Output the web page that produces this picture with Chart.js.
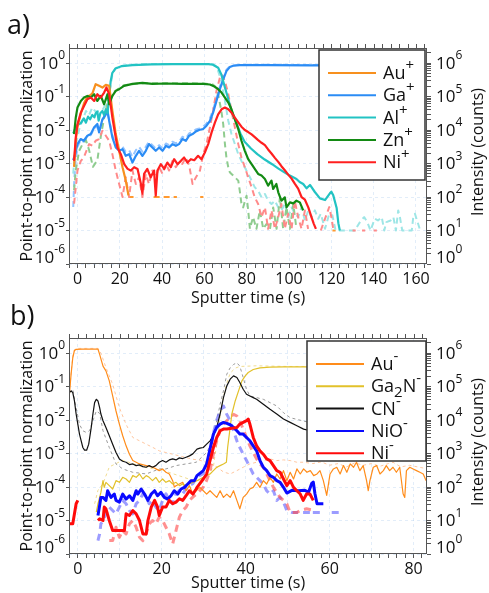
<!DOCTYPE html>
<html lang="en">
<head>
<meta charset="UTF-8">
<title>Depth profiles</title>
<script src="https://cdn.jsdelivr.net/npm/chart.js"></script>
<style>
  body { margin: 0; background: #fff; }
  .wrap { position: relative; width: 489px; height: 593px; overflow: hidden; font-family: "Open Sans", sans-serif; }
  canvas { position: absolute; left: 0; }
  #chartA { top: 0; }
  #chartB { top: 290px; }
  .panel { position: absolute; font-size: 27px; line-height: 32px; color: #111; }
</style>
</head>
<body>
<div class="wrap">
  <canvas id="chartA" width="489" height="310"></canvas>
  <canvas id="chartB" width="489" height="303"></canvas>
  <div class="panel" style="left:7px; top:8px;">a)</div>
  <div class="panel" style="left:10px; top:299px;">b)</div>
</div>
<script>
// [time (s), log10 value]; solid = point-to-point normalization (left axis),
// dashed = log10 of intensity in counts (right axis). null breaks the line.

// ---- panel a: positive ions ----
const auPlus = [[-1.6,-3.1],[-0.8,-2.3],[0,-1.9],[1.6,-1.5],[3.1,-1.2],[4.7,-1.0],[6.3,-0.95],[7.1,-0.9],[8.6,-0.63],[10.2,-0.68],[11.8,-0.73],[13.4,-0.65],[15,-0.68],[16.5,-1.43],[18.1,-2.12],[19.7,-2.62],[21.3,-3.11],[22.8,-3.5],[24.1,-3.95]];
const auPlusCounts = [[24.3,2],[26.5,2],[27,null],[36,2],[47,2],[47.5,null],[58,2],[59.5,2],[60,null],[120.5,1],[122,1]];

const gaPlus = [[-2,-2.9],[-1,-2.7],[0,-2.42],[1.5,-2.27],[3,-2.32],[4.7,-2.17],[6.3,-2.12],[7.9,-1.92],[9.4,-1.82],[10.2,-2.07],[11.8,-1.68],[13.4,-1.53],[14.2,-1.43],[15,-1.73],[16.5,-2.22],[18.1,-2.52],[19.7,-2.62],[21.3,-2.57],[22.8,-2.77],[24.4,-2.72],[26,-2.97],[27.6,-2.77],[29.1,-2.62],[30.7,-2.77],[32.3,-2.62],[33.8,-2.42],[35.4,-2.52],[37,-2.62],[38.6,-2.52],[40.2,-2.62],[41.8,-2.47],[43.3,-2.52],[44.9,-2.42],[46.5,-2.47],[48,-2.42],[49.6,-2.27],[51.2,-2.32],[52.8,-2.17],[54.4,-2.12],[56,-2.04],[57.5,-2.0],[59.4,-1.97],[61,-1.87],[62.6,-1.73],[64.1,-1.48],[65.7,-1.13],[67.3,-0.78],[68.9,-0.49],[70.4,-0.24],[72,-0.12],[73.6,-0.08],[76.7,-0.06],[90,-0.06],[110,-0.07],[130,-0.07],[150,-0.07],[163,-0.07]];
const gaPlusCounts = [[-2,1.7],[-1.5,2.5],[-1,3.0],[0,3.5],[1.5,3.7],[3,3.65],[4.7,3.8],[6.3,3.85],[7.9,4.05],[9.4,4.1],[10.2,3.95],[11.8,4.3],[13.4,4.45],[14.2,4.5],[15,4.3],[16.5,3.85],[18.1,3.55],[19.7,3.45],[21.3,3.5],[22.8,3.35],[24.4,3.4],[26,3.2],[27.6,3.4],[29.1,3.5],[30.7,3.35],[32.3,3.5],[33.8,3.65],[35.4,3.55],[37,3.45],[38.6,3.55],[40.2,3.45],[41.8,3.6],[43.3,3.55],[44.9,3.65],[46.5,3.6],[48,3.65],[49.6,3.8],[51.2,3.75],[52.8,3.9],[54.4,3.95],[56,4.02],[57.5,4.05],[59.4,4.1],[61,4.2],[62.6,4.35],[64.1,4.6],[65.7,4.95],[67.3,5.3],[68.9,5.6],[70.4,5.8],[72,5.9],[73.6,5.93],[76.7,5.95],[90,5.95],[110,5.94],[130,5.94],[150,5.94],[163,5.94]];

const alPlus = [[-2,-2.1],[-1,-1.95],[0,-1.85],[1.5,-1.8],[3,-1.65],[4,-1.78],[5,-1.6],[6,-1.68],[7,-1.55],[8,-1.62],[8.6,-1.5],[9.4,-1.45],[10,-1.72],[10.8,-1.5],[11.8,-1.43],[12.6,-1.55],[13.4,-1.38],[14.2,-1.5],[15,-0.98],[15.7,-0.54],[16.5,-0.29],[18,-0.16],[21,-0.09],[26,-0.06],[35,-0.04],[45,-0.03],[55,-0.03],[62,-0.03],[64,-0.05],[66.5,-0.14],[68,-0.34],[69.7,-0.73],[71.3,-1.08],[72.8,-1.43],[75.2,-1.8],[77,-2.1],[79,-2.35],[82,-2.55],[85,-2.72],[88.5,-2.88],[92,-3.02],[95,-3.15],[98,-3.27],[100.4,-3.36],[103.5,-3.46],[105,-3.55],[106.7,-3.61],[108.3,-3.74],[109.9,-3.64],[112.2,-3.85],[114.6,-4.04],[117,-4.09],[119.3,-3.89],[120,-3.84],[120.9,-3.95],[122.5,-4.33],[123.3,-4.78],[124,-5.0]];
const alPlusCounts = [[-2,2.7],[-1,3.5],[1,4.07],[2.5,4.3],[4,4.57],[5.5,4.45],[7,4.67],[8.6,4.55],[10.2,4.57],[11.8,4.6],[13.4,4.77],[15,5.07],[16.5,5.65],[18,5.85],[22,5.93],[30,5.97],[60,5.97],[64,5.97],[65.7,5.9],[66.5,5.76],[68,5.46],[69.7,4.87],[71.3,4.27],[72.8,3.88],[74.4,3.58],[76,3.28],[77.5,3.08],[79.1,2.88],[80.7,2.69],[82.3,2.49],[83.8,2.29],[85.4,2.19],[87,1.99],[88.6,2.09],[90.1,1.89],[91.7,1.79],[93.3,1.89],[94.9,1.69],[96.4,1.6],[98,1.79],[99.6,1.4],[101.2,1.69],[102.7,1.5],[104.3,1.4],[105.9,1.69],[107.5,1.3],[109.1,1.6],[110.6,1.4],[112.2,1.6],[113.8,1.35],[115,1.5],[117,1.05],[119,1.5],[120.5,1.45],[122,1.0],[131,1.0],[134,1.3],[135.5,1.4],[137,1.25],[138.5,1.0],[140.5,1.35],[142,1.3],[143.8,1.4],[145,1.0],[146,1.25],[148,1.3],[149.3,1.4],[150.5,1.0],[151.6,1.6],[152.4,1.4],[153.5,1.0],[158,1.0],[158.7,1.4],[159.5,1.5],[161,1.2],[162,1.0]];

const znPlus = [[-1.6,-2.12],[-0.8,-1.63],[0,-1.33],[1.6,-1.13],[3.1,-1.03],[4.7,-0.98],[6.3,-1.03],[7.9,-0.93],[9.4,-1.13],[11,-0.98],[12.6,-1.23],[14.2,-0.93],[15,-1.23],[16.5,-0.98],[18.1,-0.83],[19.7,-0.78],[22,-0.68],[26,-0.62],[30.7,-0.59],[35.4,-0.62],[41.8,-0.61],[49.6,-0.62],[55.9,-0.62],[59.4,-0.62],[62.6,-0.64],[65,-0.71],[66.5,-0.78],[68.1,-0.88],[69.7,-1.03],[71.3,-1.18],[72.8,-1.38],[74.4,-1.68],[76,-1.97],[77.5,-2.32],[79.1,-2.62],[80.7,-2.87],[82.3,-3.02],[83.8,-3.16],[85.4,-3.31],[87,-3.36],[88.6,-3.46],[90.1,-3.66],[91.7,-3.51],[92.5,-3.76],[94,-3.61],[94.9,-3.86],[96.4,-4.11],[98,-4.01],[98.8,-4.31],[100.4,-4.16],[102,-4.19],[103.5,-4.11],[105.1,-4.16],[106.7,-4.4]];
const znPlusCounts = [[-1.6,2.2],[-0.8,2.8],[0.8,3.38],[2.4,3.58],[4,3.7],[5.5,3.4],[7.3,2.9],[9.4,3.1],[11,3.8],[13,4.5],[15,5.0],[16.5,5.1],[19,5.22],[22,5.34],[30,5.4],[45,5.4],[60,5.39],[64,5.36],[65,5.3],[66.5,5.07],[68,4.57],[68.9,4.17],[69.7,3.58],[70.4,3.18],[71.3,2.88],[72,2.74],[72.8,2.69],[74.4,2.59],[76,2.49],[76.7,2.19],[77.5,1.8],[78.3,1.69],[79.9,2.04],[80.7,1.6],[81.5,1.05],[83,1.4],[84.6,1.05],[86.2,1.6],[87.8,1.05],[89.4,1.2],[91,1.05],[92.5,1.69],[94.1,1.05],[95.7,1.99],[97.2,1.05],[98.8,1.69],[100.4,1.05],[102,1.79],[103.5,1.05]];

const niPlus = [[-1.6,-2.92],[-0.8,-2.22],[0,-1.83],[1.6,-1.48],[3.1,-1.28],[4.7,-1.08],[6.3,-1.03],[7.9,-1.13],[9.4,-0.93],[11,-1.03],[12.6,-0.88],[13.7,-0.73],[15,-0.93],[16.5,-1.63],[17.8,-2.12],[18.9,-2.52],[20.5,-2.72],[22.1,-3.02],[23.7,-3.16],[25.2,-3.21],[26.8,-3.11],[28.4,-3.16],[30,-3.61],[30.7,-3.9],[31.5,-3.31],[33,-3.16],[34.6,-3.41],[36.2,-3.21],[37,-3.96],[37.8,-3.21],[39.4,-3.02],[41,-3.16],[42.5,-2.97],[44.1,-3.11],[45.7,-2.87],[47.3,-3.02],[48.9,-2.92],[50.4,-2.82],[52,-2.97],[53.6,-2.87],[55.2,-2.9],[57,-2.77],[58.6,-2.87],[60.2,-2.67],[61.8,-2.42],[63.4,-2.07],[65,-1.77],[66.5,-1.53],[68.1,-1.38],[69.7,-1.33],[71.3,-1.38],[72.8,-1.48],[74.4,-1.63],[76,-1.77],[77.5,-1.9],[79.1,-2.0],[80.7,-2.06],[82.3,-2.13],[83.8,-2.21],[85.4,-2.3],[87,-2.38],[88.6,-2.45],[90.1,-2.58],[91.7,-2.7],[93.3,-2.83],[94.9,-2.95],[96.4,-3.08],[98,-3.2],[99.6,-3.33],[101.2,-3.45],[102.7,-3.6],[104.3,-3.75],[105.9,-4.0],[107.5,-4.08],[109.1,-4.31],[110.6,-4.6],[111.7,-4.8],[112.7,-4.95]];
const niPlusCounts = [[-1.6,1.8],[0,2.79],[1.6,3.08],[3,3.18],[5.5,3.58],[7.1,3.53],[8.6,3.68],[10.2,3.73],[11.8,3.98],[13.4,3.83],[15,3.68],[16.5,3.28],[18.1,2.79],[19.7,2.39],[21.3,2.0],[22.8,2.59],[24.4,2.0],[26,2.79],[27.6,2.39],[29.1,2.59],[30.7,2.0],[32.3,2.69],[33.8,2.39],[35.4,2.79],[37,2.59],[38.6,2.89],[40.2,2.69],[41.8,2.99],[43.3,2.79],[44.9,3.08],[46.5,2.89],[48,3.03],[49.6,2.99],[51.2,3.18],[52.8,2.94],[54.4,2.39],[56,2.59],[57.9,2.79],[59.4,3.28],[61,3.58],[62.6,4.08],[64.1,4.57],[65.7,5.17],[67.3,5.56],[68.1,5.66],[69.7,5.46],[71.3,5.07],[72.8,4.57],[74.4,4.08],[76,3.58],[77.5,3.18],[79.1,2.89],[80.7,2.59],[82.3,2.29],[83.8,1.99],[85.4,1.79],[87,1.4],[88.6,1.69],[90.1,1.05],[91.7,1.6],[93.3,1.05],[94.9,1.4],[96.4,1.79],[98,1.05],[99.6,1.5],[101.2,1.05],[102.7,1.89],[104.3,1.4],[105.9,1.05],[107.5,1.6],[109,1.05],[110,null],[115,1.0],[119,1.7],[120,1.4],[121,1.0],[122,null],[130,1.0],[131.5,1.0],[132,null],[134.5,1.0],[136,1.0],[137,null],[140,1.0],[141.5,1.0]];

// ---- panel b: negative ions ----
const auMinus = [[-2,-1.23],[-1.6,-0.63],[-1.2,-0.14],[-0.8,0.08],[-0.4,0.11],[1,0.12],[3,0.12],[4.8,0.12],[5.2,-0.04],[6,-0.39],[6.7,-0.53],[7.5,-0.83],[8.3,-1.28],[9.1,-1.73],[9.9,-2.12],[10.7,-2.47],[11.5,-2.77],[12.3,-3.02],[13.1,-3.21],[14.7,-3.31],[16.3,-3.36],[17.9,-3.41],[19.4,-3.51],[20.2,-3.46],[21,-3.56],[21.8,-3.61],[22.6,-3.81],[23,-4.0],[23.4,-3.96],[24.2,-3.91],[25,-3.86],[25.8,-4.11],[26.6,-3.96],[27.4,-4.21],[28.2,-4.11],[29.1,-4.01],[29.9,-4.11],[30.7,-4.21],[31.5,-4.11],[32.3,-4.21],[33.1,-4.31],[33.9,-4.11],[34.7,-4.31],[35.5,-4.21],[36.3,-4.31],[37.1,-4.11],[37.9,-4.4],[38.6,-4.65],[39.4,-4.31],[40.2,-4.21],[41,-4.06],[41.8,-4.01],[42.6,-3.86],[43.4,-4.01],[44.2,-3.81],[45,-3.91],[45.8,-3.71],[46.6,-3.86],[47.4,-3.61],[48.2,-3.76],[49,-3.51],[49.8,-3.81],[50.6,-3.56],[51.4,-3.76],[52.2,-3.46],[53,-3.61],[53.8,-3.46],[54.6,-3.56],[55.4,-3.51],[56.2,-3.66],[57,-3.61],[57.7,-3.51],[58.5,-3.81],[59.3,-4.25],[60.1,-3.61],[60.9,-3.46],[61.7,-3.41],[62.5,-3.61],[63.3,-3.36],[64.1,-3.56],[64.9,-3.31],[65.7,-3.41],[66.4,-3.26],[67.2,-3.51],[68,-3.36],[68.8,-3.81],[69.2,-4.11],[69.6,-3.81],[70.4,-3.41],[71.2,-3.36],[72,-3.61],[72.8,-3.51],[73.5,-3.36],[74.3,-3.51],[75.1,-3.41],[75.9,-3.56],[76.7,-3.41],[77.5,-4.2],[77.9,-4.31],[78.3,-3.51],[79.1,-3.41],[79.9,-3.46],[80.7,-3.51],[81.5,-3.56],[82.3,-3.61],[83,-3.81]];
const auMinusCounts = [[-2,4.8],[-1.6,5.4],[-1.2,5.9],[-0.8,6.1],[0,6.14],[2,6.14],[4.8,6.14],[5.5,6.0],[6.7,5.57],[8.3,5.07],[9.9,4.37],[11.5,3.87],[13.1,3.48],[14.7,3.38],[16.3,3.28],[17.9,3.18],[19.4,3.08],[21,3.03],[22.6,2.98],[24.2,2.93],[25.8,2.88],[27.4,2.83],[29.1,2.8],[31.5,2.7],[33.1,2.6],[34.7,2.45],[36.3,2.39],[37.9,2.49],[39.4,2.59],[41,2.69],[42.6,2.74],[44.2,2.79],[45.8,2.84],[47.4,2.79],[49,2.81],[50.6,2.79],[52.2,2.74],[53.8,2.74],[56,2.7],[58,2.75],[60,2.65],[62,2.7],[64,2.6],[66,2.72],[68,2.65],[70,2.7],[72,2.62],[74,2.7],[75.1,2.74],[77,2.6],[79,2.65],[81,2.6],[83,2.55]];

const ga2nMinus = [[4.4,-4.75],[4.8,-4.5],[5.2,-4.31],[5.5,-4.16],[6,-3.81],[6.3,-4.01],[6.7,-3.86],[7.5,-3.96],[8.3,-4.06],[9.1,-3.81],[9.9,-3.86],[10.7,-3.71],[11.5,-3.76],[12.3,-3.86],[13.1,-3.66],[13.9,-3.71],[14.7,-3.61],[15.5,-3.76],[16.3,-3.66],[17,-3.71],[17.8,-3.81],[18.6,-3.71],[19.4,-3.86],[20.2,-3.76],[21,-3.86],[21.8,-3.81],[22.6,-3.91],[23.4,-3.86],[24.2,-3.96],[25,-3.91],[25.8,-3.96],[26.6,-3.91],[27.4,-3.86],[28.4,-3.81],[29.9,-3.71],[31.5,-3.61],[32.3,-3.51],[33.1,-3.41],[33.9,-3.36],[34.7,-3.31],[35.4,-3.26],[35.7,-2.82],[36.2,-2.32],[36.7,-1.82],[37.5,-1.43],[38.3,-1.13],[39.1,-0.83],[39.9,-0.68],[40.6,-0.58],[41.8,-0.49],[43.4,-0.44],[45.8,-0.42],[49,-0.41],[55,-0.41],[65,-0.41],[75,-0.41],[83,-0.41]];
const ga2nMinusCounts = [[4,1.5],[4.8,1.9],[6,2.1],[7.5,2.6],[9.1,2.7],[10.7,2.8],[13.1,2.7],[15.5,2.6],[17.8,2.55],[20.2,2.5],[22.6,2.4],[25,2.3],[27.4,2.2],[29,2.2],[30.7,2.3],[32.3,2.6],[33.1,3.3],[33.9,4.1],[34.7,4.7],[35.5,5.1],[36.3,5.4],[37.5,5.55],[38.6,5.6],[42.6,5.62],[50,5.6],[60,5.6],[70,5.6],[83,5.6]];

const cnMinus = [[-2,-1.18],[-1.6,-1.13],[-1.2,-1.18],[-0.8,-1.43],[-0.4,-1.82],[0,-2.12],[0.4,-2.42],[0.8,-2.62],[1.2,-2.82],[1.6,-2.9],[2.1,-2.9],[2.6,-2.72],[3.2,-2.22],[3.6,-1.82],[4,-1.48],[4.4,-1.38],[4.8,-1.43],[5.2,-1.63],[5.5,-1.82],[6,-2.02],[6.7,-2.22],[7.5,-2.47],[8.3,-2.72],[9.1,-2.97],[9.9,-3.16],[10.7,-3.23],[11.5,-3.26],[12.3,-3.33],[13.1,-3.31],[13.9,-3.36],[14.7,-3.34],[15.5,-3.39],[16.3,-3.41],[17,-3.36],[17.8,-3.41],[18.6,-3.36],[19.4,-3.26],[20.2,-3.21],[21,-3.26],[21.8,-3.19],[22.6,-3.16],[23.4,-3.19],[24.2,-3.13],[25,-3.15],[25.8,-3.11],[26.6,-3.07],[27.4,-3.01],[28.4,-2.87],[29.1,-2.84],[29.9,-2.82],[30.7,-2.72],[31.5,-2.62],[32.3,-2.47],[33.1,-2.22],[33.9,-1.82],[34.7,-1.33],[35.5,-0.98],[36.3,-0.78],[37.1,-0.68],[37.9,-0.73],[38.6,-0.88],[39.4,-1.08],[40.2,-1.23],[41,-1.28],[41.8,-1.33],[42.6,-1.38],[44.2,-1.53],[45.8,-1.68],[47.4,-1.82],[49,-1.97],[50.6,-2.07],[52.2,-2.17],[53.8,-2.27],[55.4,-2.32],[57,-2.34],[60,-2.4],[70,-2.5],[80,-2.55],[83,-2.6]];
const cnMinusCounts = [[-2,4.82],[-1.2,4.92],[-0.4,4.37],[0.4,3.87],[1.2,3.68],[2,3.63],[2.8,3.68],[3.6,3.98],[4.4,4.27],[5.2,4.2],[6,3.68],[7.5,3.18],[9.1,2.69],[10.7,2.54],[13.1,2.44],[16.3,2.39],[19.4,2.54],[21,2.54],[23.4,2.64],[25.8,2.69],[28.2,2.74],[29.1,2.84],[30.7,3.03],[31.5,3.23],[32.3,3.58],[33.1,3.98],[33.9,4.47],[34.7,4.87],[35.5,5.37],[36.3,5.56],[37.1,5.66],[37.9,5.71],[38.6,5.61],[39.4,5.27],[40.2,4.92],[41,4.72],[42.6,4.67],[44.2,4.62],[45.8,4.52],[47.4,4.42],[49,4.22],[50.6,4.07],[52.2,4.02],[53.8,3.97],[56,3.9],[60,3.8],[70,3.7],[80,3.6],[83,3.55]];

const nioMinus = [[4.8,-4.85],[5.2,-4.55],[5.5,-4.31],[6,-4.31],[6.7,-4.4],[7.1,-4.11],[7.9,-4.31],[8.7,-4.21],[9.1,-4.4],[9.9,-4.45],[10.7,-4.21],[11.5,-4.36],[12.3,-4.26],[13.1,-4.4],[13.9,-4.11],[14.3,-4.21],[15.1,-4.06],[15.9,-4.21],[16.7,-4.4],[17.5,-4.21],[18.3,-4.11],[19,-4.26],[19.8,-4.16],[20.6,-4.31],[21.4,-4.36],[22.2,-4.26],[23,-4.11],[23.8,-4.21],[24.6,-4.06],[25.4,-4.01],[26.2,-3.91],[27,-3.81],[27.8,-3.81],[28.4,-3.66],[29.9,-3.51],[30.7,-3.31],[31.5,-2.87],[32.3,-2.42],[33.1,-2.22],[33.9,-2.12],[34.7,-2.07],[35.5,-2.1],[36.3,-2.14],[37.1,-2.22],[37.9,-2.32],[38.6,-2.42],[39.4,-2.42],[40.2,-2.52],[41,-2.62],[41.8,-2.77],[42.6,-2.92],[43.4,-3.21],[44.2,-3.41],[45,-3.51],[45.8,-3.66],[46.6,-3.71],[47.4,-3.81],[48.2,-3.86],[49,-4.01],[49.8,-4.18],[51,-4.1],[52.5,-4.11],[54.1,-4.1],[55,-4.15],[55.7,-3.9],[56.1,-3.85],[56.5,-4.2],[57,-4.5],[58.5,-4.5]];
const nioMinusCounts = [[4.8,0.4],[5.2,0.6],[5.5,0.9],[6,1.0],[6.7,1.2],[7.5,1.4],[8.3,1.3],[9.1,1.2],[9.9,1.4],[10.7,1.6],[11.5,1.5],[12.3,1.3],[13.1,1.2],[13.9,1.5],[14.7,1.6],[15.5,1.8],[16.3,1.7],[17,1.5],[17.8,1.6],[18.6,1.4],[19.4,1.3],[20.2,1.6],[21,1.8],[21.8,1.6],[22.6,1.5],[23.4,1.8],[24.2,1.9],[25,1.8],[25.8,1.95],[26.6,2.05],[27.4,2.1],[28.4,2.3],[29.9,2.4],[30.7,2.6],[31.5,3.1],[32.3,3.6],[33.1,4.0],[33.9,4.27],[34.7,4.42],[35.5,4.17],[36.3,3.98],[37.1,3.68],[37.9,3.38],[38.6,3.18],[39.4,2.98],[40.2,2.79],[41,2.59],[41.8,2.39],[42.6,2.29],[43.4,2.19],[44.2,2.09],[45,1.89],[45.8,1.79],[46.6,1.89],[47.4,1.6],[48.2,1.69],[49,1.55],[49.8,1.3],[51,1.24],[53,1.24],[55.3,1.24],[55.8,null],[56,1.24],[57.7,1.24],[58,null],[60.5,1.24],[62.5,1.24]];

const niMinus = [[-2,-5.1],[-1.2,-5.1],[-0.8,-4.8],[-0.4,-4.5],[0,-4.4],[0.1,null],[4.8,-5.0],[5.2,-4.95],[6,-5.0],[6.3,-4.6],[6.7,-4.65],[7.5,-5.0],[8.3,-5.3],[9.9,-5.3],[11.1,-5.3],[11.5,-4.8],[12.3,-4.85],[13.1,-4.7],[13.9,-4.8],[14.7,-5.0],[15.5,-5.4],[16.3,-5.4],[16.7,-5.0],[17.5,-4.6],[18.3,-4.4],[19,-4.6],[19.4,-4.85],[20.2,-4.6],[21,-4.6],[21.8,-4.4],[22.6,-4.5],[23.4,-4.45],[24.2,-4.35],[25,-4.4],[25.8,-4.26],[26.6,-4.11],[27.4,-4.21],[28.2,-4.06],[28.4,-4.01],[29.9,-3.76],[30.7,-3.61],[31.5,-3.21],[32.3,-2.82],[33.1,-2.52],[33.9,-2.32],[34.7,-2.27],[35.5,-2.27],[36.3,-2.25],[37.1,-2.24],[37.9,-2.22],[38.6,-2.12],[39.4,-2.07],[40.2,-2.02],[40.6,-1.97],[41,-2.12],[41.8,-2.52],[42.6,-2.77],[43.4,-2.92],[44.2,-3.02],[45,-3.16],[45.8,-3.21],[46.6,-3.36],[47.4,-3.51],[48.2,-3.56],[49,-3.76],[49.8,-3.96],[50.6,-3.81],[51.4,-4.01],[52.2,-4.11],[53,-4.21],[53.7,-4.4],[54.5,-4.21],[55.3,-4.21],[56.1,-4.4]];
const niMinusCounts = [[7.5,0.4],[8.3,0.4],[9.1,0.8],[9.9,0.5],[10.7,0.7],[11.5,0.6],[12.3,0.9],[13.1,1.0],[13.9,0.8],[14.7,0.5],[15.5,0.4],[16.3,0.6],[17,0.9],[17.8,1.0],[18.6,0.9],[19.4,1.1],[20.2,1.0],[21,0.8],[21.8,0.6],[22.6,0.3],[23.4,0.7],[24.2,1.1],[25,1.3],[25.8,1.4],[26.6,1.6],[27.4,1.7],[28.4,1.8],[29.9,2.0],[30.7,2.2],[31.5,2.49],[32.3,2.99],[33.1,3.38],[33.9,3.68],[34.7,3.88],[35.5,3.98],[36.3,4.08],[37.1,4.17],[37.9,4.12],[38.6,3.98],[39.4,3.73],[40.2,3.48],[41,3.23],[41.8,3.03],[42.6,2.84],[43.4,2.69],[44.2,2.59],[45,2.39],[45.8,2.19],[46.6,1.99],[47.4,1.84],[48.2,1.69],[49,1.6],[49.8,1.5],[50.6,1.24],[52.2,1.24],[53,1.3],[54.5,1.35],[56.5,1.3]];

// legend labels: ^x = superscript, _x = subscript
const labelsA = ['Au^+', 'Ga^+', 'Al^+', 'Zn^+', 'Ni^+'];
const labelsB = ['Au^-', 'Ga_2N^-', 'CN^-', 'NiO^-', 'Ni^-'];

const xTitle = 'Sputter time (s)';
const yTitleLeft = 'Point-to-point normalization';
const yTitleRight = 'Intensity (counts)';

const FONT = '"Open Sans", sans-serif';
const gridCol = 'rgba(150, 190, 235, 0.28)';
Chart.defaults.font.family = FONT;
Chart.defaults.color = '#111';

function line(pairs, color, width, dash, axis, order) {
    return {
        data: pairs.map(p => ({ x: p[0], y: p[1] })),
        borderColor: color,
        borderWidth: width,
        borderDash: dash || [],
        borderJoinStyle: 'round',
        yAxisID: axis,
        pointRadius: 0,
        fill: false,
        order: order
    };
}

function drawRich(ctx, text, x, y, size) {
    let i = 0;
    while (i < text.length) {
        let ch = text[i], mode = 0;
        if (ch === '^' || ch === '_') {
            mode = ch === '^' ? 1 : -1;
            i++;
            ch = text[i];
        }
        const fs = mode ? Math.round(size * 0.85) : size;
        ctx.font = fs + 'px ' + FONT;
        const dy = mode === 1 ? -size * 0.45 : (mode === -1 ? size * 0.3 : 0);
        ctx.fillText(ch, x, y + dy);
        x += ctx.measureText(ch).width;
        i++;
    }
}

// plot frame + small tick marks on the top edge
const frame = {
    id: 'frame',
    afterDatasetsDraw(chart) {
        const { ctx, chartArea: ca } = chart;
        const xs = chart.scales.x;
        ctx.save();
        ctx.strokeStyle = '#555';
        ctx.lineWidth = 1;
        ctx.strokeRect(Math.round(ca.left) + 0.5, Math.round(ca.top) + 0.5,
            Math.round(ca.right - ca.left) - 1, Math.round(ca.bottom - ca.top) - 1);
        ctx.beginPath();
        xs.ticks.forEach(t => {
            const px = Math.round(xs.getPixelForValue(t.value)) + 0.5;
            ctx.moveTo(px, ca.top - 4);
            ctx.lineTo(px, ca.top);
        });
        ctx.stroke();
        ctx.restore();
    }
};

// 10^n tick labels on both y axes and the right axis title
const expLabels = {
    id: 'expLabels',
    afterDraw(chart) {
        const { ctx, chartArea: ca } = chart;
        const yl = chart.scales.y, yr = chart.scales.y2;
        ctx.save();
        ctx.fillStyle = '#111';
        ctx.textBaseline = 'middle';
        yl.ticks.forEach(t => {
            const py = Math.min(yl.getPixelForValue(t.value), ca.bottom - 7);
            const e = String(Math.round(t.value));
            ctx.font = '12px ' + FONT;
            const ew = ctx.measureText(e).width;
            ctx.textAlign = 'left';
            ctx.fillText(e, ca.left - 4 - ew, py - 7);
            ctx.font = '17px ' + FONT;
            ctx.textAlign = 'right';
            ctx.fillText('10', ca.left - 4 - ew, py + 1);
        });
        yr.ticks.filter(t => Number.isInteger(t.value)).forEach(t => {
            const py = Math.min(yr.getPixelForValue(t.value), ca.bottom - 7);
            const px = ca.right + 9;
            ctx.textAlign = 'left';
            ctx.font = '17px ' + FONT;
            ctx.fillText('10', px, py + 1);
            const w = ctx.measureText('10').width;
            ctx.font = '12px ' + FONT;
            ctx.fillText(String(t.value), px + w, py - 7);
        });
        ctx.translate(478, (ca.top + ca.bottom) / 2 - 4);
        ctx.rotate(-Math.PI / 2);
        ctx.font = '16px ' + FONT;
        ctx.textAlign = 'center';
        ctx.fillText(yTitleRight, 0, 0);
        ctx.restore();
    }
};

// boxed legend inside the top right of the plot
const boxLegend = {
    id: 'boxLegend',
    afterDraw(chart, args, opts) {
        const { ctx, chartArea: ca } = chart;
        const x0 = ca.right - opts.width - opts.right, y0 = ca.top + opts.top;
        ctx.save();
        ctx.fillStyle = '#fff';
        ctx.fillRect(x0, y0, opts.width, opts.height);
        ctx.strokeStyle = '#333';
        ctx.lineWidth = 1.5;
        ctx.strokeRect(x0, y0, opts.width, opts.height);
        opts.labels.forEach((lab, i) => {
            const y = y0 + 23 + i * 22.3;
            ctx.strokeStyle = opts.colors[i];
            ctx.lineWidth = 2;
            ctx.beginPath();
            ctx.moveTo(x0 + 9, y);
            ctx.lineTo(x0 + 57, y);
            ctx.stroke();
            ctx.fillStyle = '#111';
            ctx.textBaseline = 'middle';
            ctx.textAlign = 'left';
            drawRich(ctx, lab, x0 + 64, y + 1, 18);
        });
        ctx.restore();
    }
};

function inRange(s) {
    s.ticks = s.ticks.filter(t => t.value >= s.min - 1e-9 && t.value <= s.max + 1e-9);
}

function makePanel(id, datasets, o) {
    const canvas = document.getElementById(id);
    return new Chart(canvas, {
        type: 'line',
        data: { datasets: datasets },
        options: {
            responsive: false,
            animation: false,
            events: [],
            layout: { padding: { top: 48, left: 0, right: 0, bottom: 0 }, autoPadding: false },
            plugins: {
                legend: { display: false },
                tooltip: { enabled: false },
                boxLegend: o.legend
            },
            scales: {
                x: {
                    type: 'linear', min: o.xMin, max: o.xMax,
                    afterBuildTicks: inRange,
                    afterFit: s => { s.height = o.xHeight; },
                    ticks: {
                        stepSize: o.xStep, includeBounds: false, autoSkip: false, maxRotation: 0,
                        padding: 2, font: { size: 16 }, color: '#111',
                        callback: v => (Math.abs(v % o.xLabelEvery) < 1e-9 ? v : '')
                    },
                    grid: {
                        color: c => (c.tick && Math.abs(c.tick.value % o.xGridEvery) < 1e-9 ? gridCol : 'transparent'),
                        tickColor: '#555', tickLength: 4, borderDash: [3, 3]
                    },
                    border: { display: false, dash: [3, 3] },
                    title: { display: true, text: xTitle, font: { size: 16 }, color: '#111', padding: { top: 0, bottom: o.titlePad } }
                },
                y: {
                    type: 'linear', position: 'left', min: -6, max: 0.45,
                    afterBuildTicks: inRange,
                    afterFit: s => { s.width = 69; },
                    ticks: { stepSize: 1, includeBounds: false, display: false },
                    grid: { color: gridCol, tickColor: '#555', tickLength: 3, borderDash: [3, 3] },
                    border: { display: false, dash: [3, 3] },
                    title: { display: true, text: yTitleLeft, font: { size: 16 }, color: '#111', padding: { top: 18, bottom: 0 } }
                },
                y2: {
                    type: 'linear', position: 'right', min: 0, max: 6.45,
                    afterBuildTicks: s => {
                        const out = [];
                        for (let d = 0; d <= 6; d++) {
                            for (let k = 1; k <= 9; k++) {
                                const v = d + Math.log10(k);
                                if (v <= s.max) out.push({ value: k === 1 ? d : v });
                            }
                        }
                        s.ticks = out;
                    },
                    afterFit: s => { s.width = 62; },
                    ticks: { display: false },
                    grid: { drawOnChartArea: false, tickColor: '#555', tickLength: 4 },
                    border: { display: false }
                }
            }
        },
        plugins: [frame, expLabels, boxLegend]
    });
}

const colA = { au: '#f7901e', ga: '#2b8cf5', al: '#22c3c3', zn: '#138a13', ni: '#ff1f1f' };
const lightA = { au: '#ff9a30', ga: '#94c4ff', al: '#9ee6e6', zn: '#8fcc8f', ni: '#ff8a8a' };
const dA = [6, 4];

makePanel('chartA', [
    line(niPlus, colA.ni, 2.2, null, 'y', 1),
    line(znPlus, colA.zn, 2.2, null, 'y', 2),
    line(auPlus, colA.au, 2.2, null, 'y', 3),
    line(alPlus, colA.al, 2.2, null, 'y', 4),
    line(gaPlus, colA.ga, 2.2, null, 'y', 5),
    line(niPlusCounts, lightA.ni, 2, dA, 'y2', 6),
    line(znPlusCounts, lightA.zn, 2, dA, 'y2', 7),
    line(alPlusCounts, lightA.al, 2, dA, 'y2', 8),
    line(gaPlusCounts, lightA.ga, 2, dA, 'y2', 9),
    line(auPlusCounts, lightA.au, 2, dA, 'y2', 10)
], {
    xMin: -4, xMax: 165.2, xStep: 4, xLabelEvery: 20, xGridEvery: 20, xHeight: 46, titlePad: 2,
    legend: { labels: labelsA, colors: [colA.au, colA.ga, colA.al, colA.zn, colA.ni], width: 106, height: 130, right: 2, top: 2 }
});

const colB = { au: '#ff8c1a', ga2n: '#e2c12a', cn: '#111111', nio: '#0a0aff', ni: '#ff0a0a' };
const lightB = { au: '#ffc7a0', ga2n: '#f0dc90', cn: '#9a9a9a', nio: 'rgba(90, 90, 255, 0.6)', ni: 'rgba(255, 70, 70, 0.6)' };

makePanel('chartB', [
    line(niMinus, colB.ni, 3, null, 'y', 1),
    line(nioMinus, colB.nio, 3, null, 'y', 2),
    line(cnMinus, colB.cn, 1.2, null, 'y', 3),
    line(ga2nMinus, colB.ga2n, 1.2, null, 'y', 4),
    line(auMinus, colB.au, 1.2, null, 'y', 5),
    line(niMinusCounts, lightB.ni, 3, [7, 5], 'y2', 6),
    line(nioMinusCounts, lightB.nio, 3, [7, 5], 'y2', 7),
    line(cnMinusCounts, lightB.cn, 1, [3, 3], 'y2', 8),
    line(ga2nMinusCounts, lightB.ga2n, 1, [3, 3], 'y2', 9),
    line(auMinusCounts, lightB.au, 1, [3, 3], 'y2', 10)
], {
    xMin: -2.1, xMax: 83.2, xStep: 2, xLabelEvery: 20, xGridEvery: 10, xHeight: 39, titlePad: 0,
    legend: { labels: labelsB, colors: [colB.au, colB.ga2n, colB.cn, colB.nio, colB.ni], width: 119, height: 120, right: 1, top: 3 }
});
</script>
</body>
</html>
